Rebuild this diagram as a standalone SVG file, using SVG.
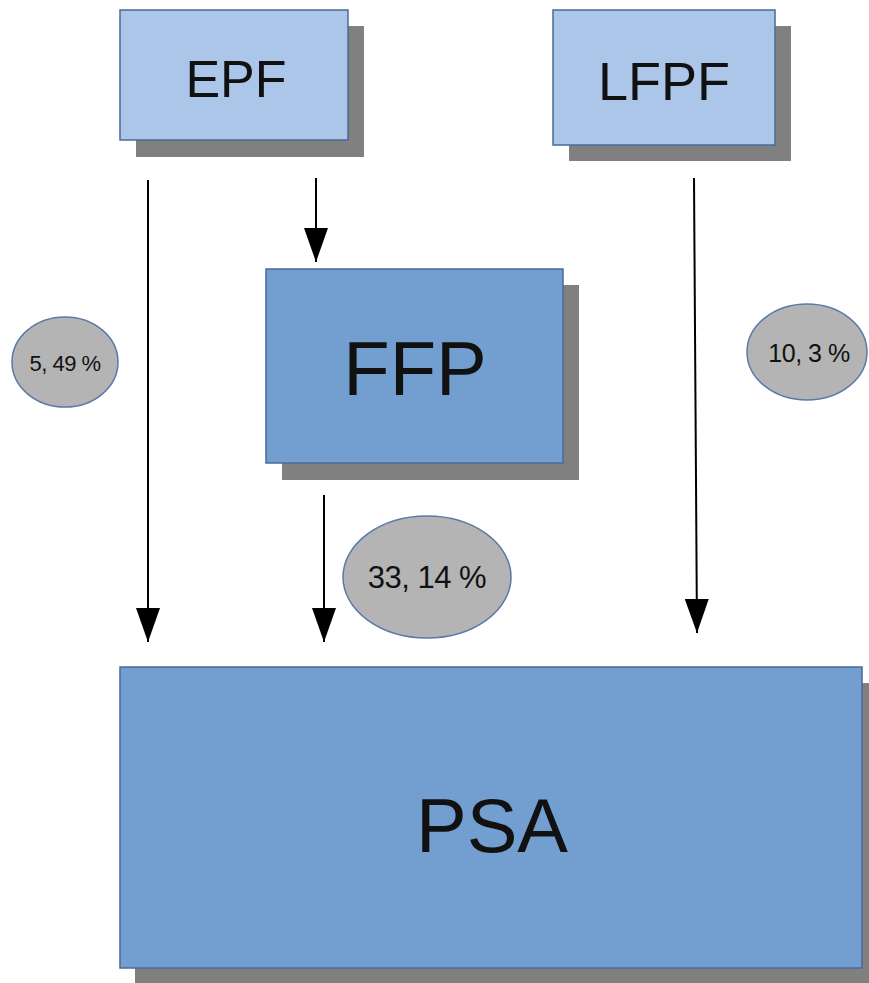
<svg xmlns="http://www.w3.org/2000/svg" width="869" height="983" viewBox="0 0 869 983">
<style>
.shadow{fill:#808080}
.light{fill:#abc6e9;stroke:#4a6b98;stroke-width:1.5}
.dark{fill:#729fcf;stroke:#4a6b98;stroke-width:1.5}
.oval{fill:#b4b4b4;stroke:#5a7aa8;stroke-width:1.5}
text{font-family:"Liberation Sans",Arial,sans-serif;fill:#111;text-anchor:middle}
.conn line{stroke:#000;stroke-width:2}
</style>
<defs>
<marker id="ah" markerWidth="34" markerHeight="24" refX="34" refY="12" orient="auto" markerUnits="userSpaceOnUse" viewBox="0 0 34 24">
<path d="M0,0 L34,12 L0,24 Z" fill="#000"/>
</marker>
</defs>
<rect width="869" height="983" fill="#fff"/>
<g id="EPF">
<rect class="shadow" x="136" y="26" width="228" height="131"/>
<rect class="light" x="120" y="10" width="228" height="130"/>
<text x="236" y="97" font-size="52">EPF</text>
</g>
<g id="LFPF">
<rect class="shadow" x="569" y="26" width="222" height="135"/>
<rect class="light" x="553" y="10" width="222" height="135"/>
<text x="664" y="100" font-size="54">LFPF</text>
</g>
<g id="FFP">
<rect class="shadow" x="282" y="285" width="297" height="195"/>
<rect class="dark" x="266" y="269" width="297" height="194"/>
<text x="415" y="395" font-size="76">FFP</text>
</g>
<g id="PSA">
<rect class="shadow" x="135" y="683" width="734" height="300"/>
<rect class="dark" x="120" y="667" width="742" height="301"/>
<text x="492" y="852" font-size="76">PSA</text>
</g>
<g id="lbl1">
<ellipse class="oval" cx="65" cy="362" rx="53" ry="45"/>
<text x="65" y="371" font-size="22" letter-spacing="-0.5">5, 49 %</text>
</g>
<g id="lbl2">
<ellipse class="oval" cx="807" cy="352" rx="60" ry="48"/>
<text x="809" y="362" font-size="25" letter-spacing="-0.5">10, 3 %</text>
</g>
<g id="lbl3">
<ellipse class="oval" cx="427" cy="577" rx="84" ry="61"/>
<text x="427" y="588" font-size="31" letter-spacing="-0.5">33, 14 %</text>
</g>
<g class="conn" id="connectors">
<line x1="148" y1="180" x2="148" y2="642" marker-end="url(#ah)"/>
<line x1="316" y1="178" x2="316" y2="262" marker-end="url(#ah)"/>
<line x1="324" y1="495" x2="324" y2="642" marker-end="url(#ah)"/>
<line x1="694" y1="178" x2="697" y2="633" marker-end="url(#ah)"/>
</g>
</svg>
